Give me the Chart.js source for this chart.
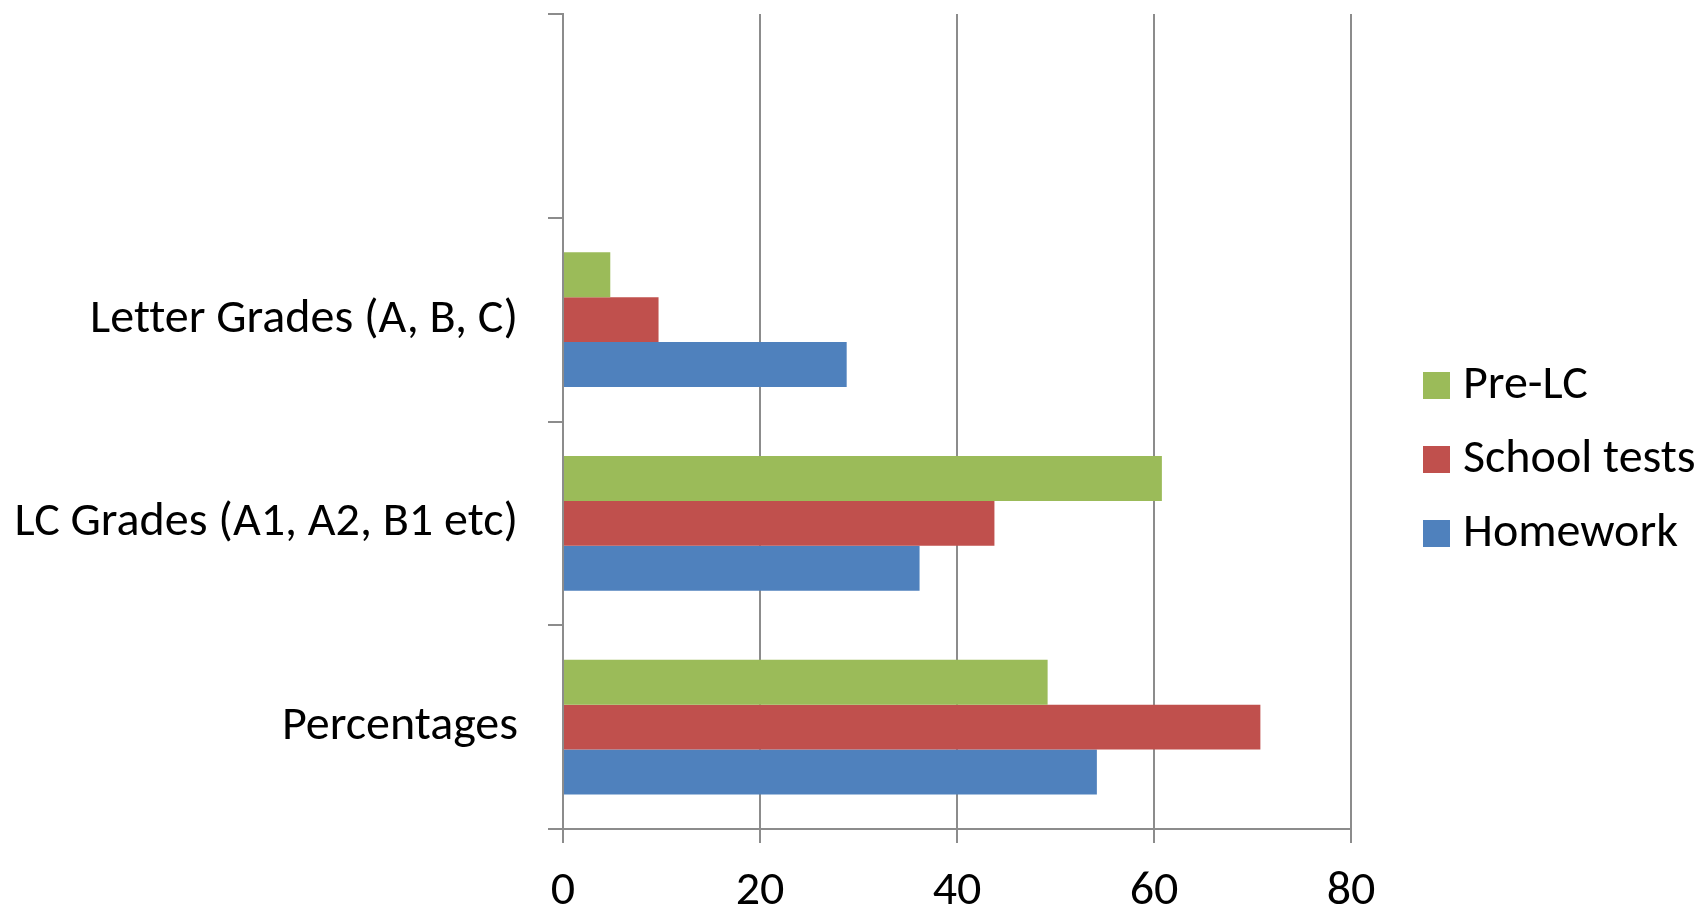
<!DOCTYPE html>
<html>
<head>
<meta charset="utf-8">
<script src="https://cdn.jsdelivr.net/npm/chart.js@4/dist/chart.umd.min.js"></script>
<style>
  html, body { margin: 0; padding: 0; background: #ffffff; }
  canvas { display: block; }
</style>
</head>
<body>
<canvas id="chart" width="1700" height="909"></canvas>
<script>
// Grading formats, top to bottom (the first band is left empty)
const categories = ['', 'Letter Grades (A, B, C)', 'LC Grades (A1, A2, B1 etc)', 'Percentages'];

// Series values (%)
const preLC       = [null, 4.8, 60.8, 49.2];
const schoolTests = [null, 9.7, 43.8, 70.8];
const homework    = [null, 28.8, 36.2, 54.2];

// Value axis
const xMin = 0;
const xMax = 80;
const xStep = 20;

const FONT = 'Carlito, Lato, sans-serif';
const FONT_SIZE = 48;
const GRID = '#8c8c8c';
const LEGEND_ROW = 74;
const LEGEND_WIDTH = 349;
const LEGEND_INSET = 82;     // chart-area edge to the legend item origin
const LEGEND_TOP = 10;
const SWATCH = 27;

// Square colour swatch used as the legend marker
function swatch(color) {
  const c = document.createElement('canvas');
  c.width = SWATCH;
  c.height = SWATCH;
  const g = c.getContext('2d');
  g.fillStyle = color;
  g.fillRect(0, 0, SWATCH, SWATCH);
  return c;
}

// Plain glyphs (no ligatures) and a fixed-width legend block
const layoutTweaks = {
  id: 'layoutTweaks',
  beforeLayout(chart) {
    const lg = chart.legend;
    if (lg && !lg.__fixedWidth) {
      const fit = lg.fit.bind(lg);
      lg.fit = function () { fit(); this.width = LEGEND_WIDTH; };
      lg.__fixedWidth = true;
    }
  },
  afterLayout(chart) {
    const lg = chart.legend;
    const pad = lg.options.labels.padding;
    const dx = chart.chartArea.right + LEGEND_INSET - (lg.left + pad);
    lg.left += dx;
    lg.right += dx;
    lg.top = LEGEND_TOP;
    lg.bottom = chart.height;
    lg.height = lg.bottom - lg.top;
  },
  beforeDraw(chart) {
    chart.ctx.textRendering = 'optimizeSpeed';
  }
};

new Chart(document.getElementById('chart'), {
  type: 'bar',
  data: {
    labels: categories,
    datasets: [
      { label: 'Pre-LC', data: preLC, backgroundColor: '#9BBB59' },
      { label: 'School tests', data: schoolTests, backgroundColor: '#C0504D' },
      { label: 'Homework', data: homework, backgroundColor: '#4F81BD' }
    ]
  },
  options: {
    indexAxis: 'y',
    responsive: false,
    devicePixelRatio: 1,
    animation: false,
    datasets: {
      bar: { categoryPercentage: 0.662, barPercentage: 1.0 }
    },
    layout: { padding: { top: 14, right: 0, bottom: 0, left: 0 } },
    scales: {
      x: {
        min: xMin,
        max: xMax,
        ticks: {
          stepSize: xStep,
          color: '#000000',
          padding: 20,
          font: { family: FONT, size: FONT_SIZE }
        },
        grid: { color: GRID, lineWidth: 2, drawTicks: true, tickLength: 14 },
        border: { color: GRID, width: 2 },
        afterFit(s) { s.height = 80; s.paddingLeft = 0; s.paddingRight = 0; }
      },
      y: {
        ticks: {
          color: '#000000',
          padding: 30,
          font: { family: FONT, size: FONT_SIZE }
        },
        grid: { color: GRID, lineWidth: 2, drawOnChartArea: false, drawTicks: true, tickLength: 15 },
        border: { color: GRID, width: 2 },
        afterFit(s) { s.width = 563; s.paddingTop = 0; s.paddingBottom = 0; }
      }
    },
    plugins: {
      legend: {
        position: 'right',
        labels: {
          usePointStyle: true,
          pointStyleWidth: 6,
          boxHeight: SWATCH,
          padding: LEGEND_ROW - FONT_SIZE,
          color: '#000000',
          font: { family: FONT, size: FONT_SIZE },
          generateLabels(chart) {
            const items = Chart.defaults.plugins.legend.labels.generateLabels(chart);
            items.forEach(item => { item.pointStyle = swatch(item.fillStyle); });
            return items;
          }
        }
      },
      tooltip: { enabled: false }
    }
  },
  plugins: [layoutTweaks]
});
</script>
</body>
</html>
